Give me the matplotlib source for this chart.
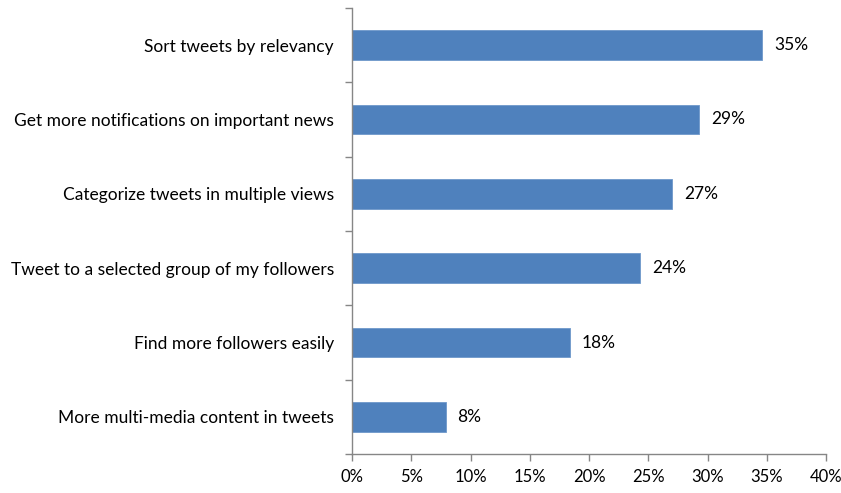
import matplotlib
matplotlib.use("Agg")
import matplotlib.pyplot as plt
from matplotlib.ticker import FuncFormatter

# Survey results: share of respondents wanting each feature (%)
features = [
    "Sort tweets by relevancy",
    "Get more notifications on important news",
    "Categorize tweets in multiple views",
    "Tweet to a selected group of my followers",
    "Find more followers easily",
    "More multi-media content in tweets",
]
shares = [34.6, 29.3, 27.0, 24.3, 18.4, 7.9]
x_ticks = [0, 5, 10, 15, 20, 25, 30, 35, 40]

plt.rcParams["font.family"] = ["Lato", "DejaVu Sans"]
FS = 12.5

fig = plt.figure(figsize=(8.41, 4.93), dpi=100)
ax = fig.add_axes([352 / 841, 1 - 454 / 493, 474 / 841, 446 / 493])

n = len(features)
ypos = list(range(n))
ax.barh(ypos, shares, height=0.4, color="#4F81BD", edgecolor="#6E98CB", linewidth=0.6)

for y, v in zip(ypos, shares):
    ax.text(v + 1.0, y, f"{round(v):.0f}%", va="center", ha="left", fontsize=FS, color="black")

ax.set_ylim(n - 0.5, -0.5)
ax.set_xlim(0, 40)
ax.set_xticks(x_ticks)
ax.xaxis.set_major_formatter(FuncFormatter(lambda v, p: f"{v:.0f}%"))

# category labels centred in each band, ticks at band boundaries
ax.set_yticks(ypos)
ax.set_yticklabels(features, fontsize=FS)
ax.set_yticks([i - 0.5 for i in range(n + 1)], minor=True)
ax.tick_params(axis="y", which="major", length=0, pad=13)
ax.tick_params(axis="y", which="minor", length=5, width=1, color="#868686", direction="out")
ax.tick_params(axis="x", which="major", length=5, width=1, color="#868686", direction="out",
               labelsize=12, pad=6)

for side in ("top", "right"):
    ax.spines[side].set_visible(False)
for side in ("left", "bottom"):
    ax.spines[side].set_color("#868686")
    ax.spines[side].set_linewidth(1)

fig.savefig("out.png", dpi=100)
